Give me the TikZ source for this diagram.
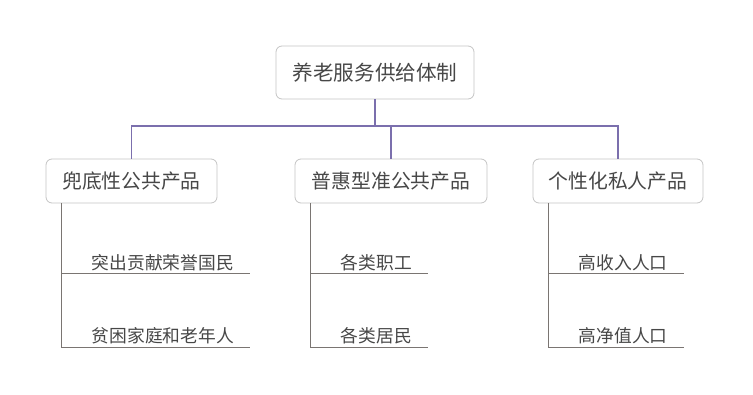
\documentclass[tikz,border=0pt]{standalone}
\usepackage{fontspec}
\setmainfont{Noto Sans CJK SC}
\usetikzlibrary{calc}
\definecolor{trunkcol}{HTML}{7B6FAD}
\definecolor{branchcol}{HTML}{7A7572}
\definecolor{boxline}{HTML}{C4C4C4}
\definecolor{txt}{HTML}{474747}
\tikzset{
  box/.style={draw=boxline,line width=.8pt,rounded corners=6pt,fill=white,text=txt,minimum height=44,inner sep=0},
  trunk/.style={draw=trunkcol,line width=1.5pt},
  branch/.style={draw=branchcol,line width=1.4pt},
  leaf/.style={anchor=west,inner sep=0,text=txt,font=\fontsize{17.75}{20}\selectfont},
}
\begin{document}
\begin{tikzpicture}[x=1pt,y=-1pt]
  \useasboundingbox (0,0) rectangle (753,395);
  \node[box,minimum width=198,minimum height=53,font=\fontsize{20.6}{24}\selectfont] (root) at (375,72.5){养老服务供给体制};
  \coordinate (hub) at ($(root.south)+(0,26.5)$);
  \draw[trunk] (root.south) -- (hub);
  \foreach \n/\x/\w/\t in {1/131.5/171/兜底性公共产品,2/391/192/普惠型准公共产品,3/618/170/个性化私人产品}{
    \node[box,minimum width=\w,font=\fontsize{19.8}{22}\selectfont] (cat\n) at (\x,181){\t};
    \draw[trunk] (hub) -| (cat\n.north);
  }
  % leaves under each category
  \foreach \n/\a/\b in {1/突出贡献荣誉国民/贫困家庭和老年人,2/各类职工/各类居民,3/高收入人口/高净值人口}{
    \coordinate (v\n) at ([xshift=16pt]cat\n.south west);
    \node[leaf] (top\n) at ($(v\n)+(30,59)$){\a};
    \node[leaf] (bot\n) at ($(v\n)+(30,132)$){\b};
    \coordinate (enda\n) at ($(top\n.east)+(16,11)$);
    \coordinate (endb\n) at ($(bot\n.east)+(16,12)$);
    \draw[branch] (v\n) |- (endb\n);
    \draw[branch] (enda\n -| v\n) -- (enda\n);
  }
\end{tikzpicture}
\end{document}
